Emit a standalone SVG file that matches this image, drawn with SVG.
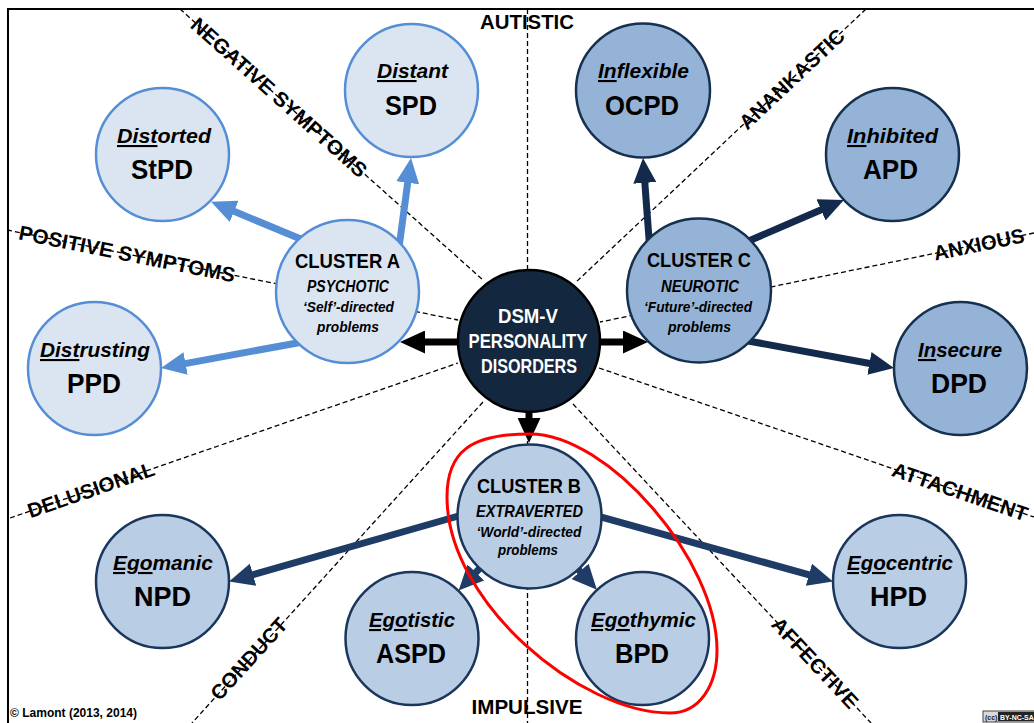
<svg xmlns="http://www.w3.org/2000/svg" width="1034" height="723" viewBox="0 0 1034 723">
<defs>
<style>
.ax{fill:none;stroke:#000;stroke-width:1.3;stroke-dasharray:5 3}
.axl{font-family:"Liberation Sans",Arial,sans-serif;font-weight:bold;font-size:20.5px;fill:#000;text-anchor:middle}
.sh{fill:none;stroke-width:7}
.a{stroke:#558ed5}
.c{stroke:#132a4c}
.b{stroke:#1f3c66}
.k{stroke:#000}
.na{fill:#dbe5f1;stroke:#558ed5;stroke-width:2.5}
.nb{fill:#b9cde5;stroke:#1b365c;stroke-width:2.5}
.nc{fill:#95b3d7;stroke:#16304f;stroke-width:2.5}
.nm{fill:#13273f;stroke:#000;stroke-width:2.5}
.t{font-family:"Liberation Sans",Arial,sans-serif;font-weight:bold;text-anchor:middle;fill:#000}
.w{fill:#fff;font-size:20px}
.ct{font-size:21px}
.ci{font-size:16px;font-style:italic}
.cs{font-size:15px;font-style:italic}
.iw{font-size:21px;font-style:italic}
.cd{font-size:28px}
.u{text-decoration:underline}
</style>
<marker id="ma" markerUnits="userSpaceOnUse" markerWidth="25" markerHeight="23" refX="6" refY="11.5" orient="auto"><path d="M0,0 L25,11.5 L0,23 Z" fill="#558ed5"/></marker>
<marker id="mc" markerUnits="userSpaceOnUse" markerWidth="25" markerHeight="23" refX="6" refY="11.5" orient="auto"><path d="M0,0 L25,11.5 L0,23 Z" fill="#132a4c"/></marker>
<marker id="mb" markerUnits="userSpaceOnUse" markerWidth="25" markerHeight="23" refX="6" refY="11.5" orient="auto"><path d="M0,0 L25,11.5 L0,23 Z" fill="#1f3c66"/></marker>
<marker id="mk" markerUnits="userSpaceOnUse" markerWidth="25" markerHeight="23" refX="6" refY="11.5" orient="auto"><path d="M0,0 L25,11.5 L0,23 Z" fill="#000"/></marker>
</defs>
<rect width="1034" height="723" fill="#fff"/>
<path d="M8,723 V9 H1034" fill="none" stroke="#000" stroke-width="2"/>

<g id="axes">
<text class="axl" x="527" y="29" textLength="94" lengthAdjust="spacingAndGlyphs">AUTISTIC</text>
<text class="axl" x="527" y="714" textLength="111" lengthAdjust="spacingAndGlyphs">IMPULSIVE</text>
<text class="axl" transform="translate(279,97.5) rotate(41.8)" y="7" textLength="228" lengthAdjust="spacingAndGlyphs">NEGATIVE SYMPTOMS</text>
<text class="axl" transform="translate(127,254) rotate(11.3)" y="7" textLength="220" lengthAdjust="spacingAndGlyphs">POSITIVE SYMPTOMS</text>
<text class="axl" transform="translate(792,79) rotate(-43.3)" y="7" textLength="136" lengthAdjust="spacingAndGlyphs">ANANKASTIC</text>
<text class="axl" transform="translate(979,244.5) rotate(-11.6)" y="7" textLength="92" lengthAdjust="spacingAndGlyphs">ANXIOUS</text>
<text class="axl" transform="translate(91,490) rotate(-19.1)" y="7" textLength="133" lengthAdjust="spacingAndGlyphs">DELUSIONAL</text>
<text class="axl" transform="translate(960,492) rotate(18.9)" y="7" textLength="142" lengthAdjust="spacingAndGlyphs">ATTACHMENT</text>
<text class="axl" transform="translate(249,659) rotate(-47.7)" y="7" textLength="103" lengthAdjust="spacingAndGlyphs">CONDUCT</text>
<text class="axl" transform="translate(815,663) rotate(47)" y="7" textLength="116" lengthAdjust="spacingAndGlyphs">AFFECTIVE</text>
<line class="ax" x1="527.5" y1="9" x2="527.5" y2="723"/>
<line class="ax" x1="180" y1="9" x2="483" y2="280"/>
<line class="ax" x1="866" y1="9" x2="575" y2="283"/>
<line class="ax" x1="7" y1="230" x2="458" y2="320"/>
<line class="ax" x1="1034" y1="233" x2="600" y2="322"/>
<line class="ax" x1="10" y1="518" x2="458" y2="363"/>
<line class="ax" x1="599" y1="368" x2="1034" y2="517"/>
<line class="ax" x1="483" y1="402" x2="192" y2="723"/>
<line class="ax" x1="573" y1="404" x2="871" y2="723"/>
</g>

<g id="connectors">
<line class="sh a" x1="398.7" y1="249.9" x2="408.5" y2="176.8" marker-end="url(#ma)"/>
<line class="sh a" x1="307.3" y1="241.8" x2="228.6" y2="209.1" marker-end="url(#ma)"/>
<line class="sh a" x1="306.8" y1="341.2" x2="179.7" y2="364.6" marker-end="url(#ma)"/>
<line class="sh c" x1="649.7" y1="248" x2="644.4" y2="176.9" marker-end="url(#mc)"/>
<line class="sh c" x1="741.8" y1="244" x2="826.5" y2="207.5" marker-end="url(#mc)"/>
<line class="sh c" x1="744.2" y1="340.2" x2="875.3" y2="364.5" marker-end="url(#mc)"/>
<line class="sh b" x1="467.2" y1="513.5" x2="247.3" y2="576.3" marker-end="url(#mb)"/>
<line class="sh b" x1="581.7" y1="511.6" x2="814.7" y2="576.4" marker-end="url(#mb)"/>
<line class="sh b" x1="487.9" y1="559.7" x2="471.7" y2="576.8" marker-end="url(#mb)"/>
<line class="sh b" x1="570.2" y1="560.5" x2="584.1" y2="575.8" marker-end="url(#mb)"/>
<line class="sh k" x1="470" y1="342" x2="419" y2="342" marker-end="url(#mk)"/>
<line class="sh k" x1="590" y1="342" x2="629" y2="342" marker-end="url(#mk)"/>
<line class="sh k" x1="529" y1="400" x2="529" y2="424" marker-end="url(#mk)"/>
</g>

<g id="center">
<circle class="nm" cx="529" cy="341" r="71"/>
<text class="t w" x="528" y="323" textLength="60" lengthAdjust="spacingAndGlyphs">DSM-V</text>
<text class="t w" x="528" y="348" textLength="119" lengthAdjust="spacingAndGlyphs">PERSONALITY</text>
<text class="t w" x="529" y="373" textLength="96" lengthAdjust="spacingAndGlyphs">DISORDERS</text>
</g>

<g id="clusterA">
<circle class="na" cx="347.5" cy="291.5" r="71.5"/>
<text class="t ct" x="347.5" y="268" textLength="105" lengthAdjust="spacingAndGlyphs">CLUSTER A</text>
<text class="t ci" x="348" y="292" textLength="82" lengthAdjust="spacingAndGlyphs">PSYCHOTIC</text>
<text class="t cs" x="348.5" y="312" textLength="91" lengthAdjust="spacingAndGlyphs">‘Self’-directed</text>
<text class="t cs" x="348" y="332" textLength="62" lengthAdjust="spacingAndGlyphs">problems</text>
</g>

<g id="clusterC">
<circle class="nc" cx="699" cy="290.5" r="72"/>
<text class="t ct" x="699" y="267" textLength="104" lengthAdjust="spacingAndGlyphs">CLUSTER C</text>
<text class="t ci" x="700" y="292" textLength="78" lengthAdjust="spacingAndGlyphs">NEUROTIC</text>
<text class="t cs" x="698" y="312" textLength="108" lengthAdjust="spacingAndGlyphs">‘Future’-directed</text>
<text class="t cs" x="699.5" y="332" textLength="63" lengthAdjust="spacingAndGlyphs">problems</text>
</g>

<g id="clusterB">
<circle class="nb" cx="529.5" cy="516.5" r="72"/>
<text class="t ct" x="529" y="493" textLength="104" lengthAdjust="spacingAndGlyphs">CLUSTER B</text>
<text class="t ci" x="529.5" y="517" textLength="107" lengthAdjust="spacingAndGlyphs">EXTRAVERTED</text>
<text class="t cs" x="529" y="537" textLength="105" lengthAdjust="spacingAndGlyphs">‘World’-directed</text>
<text class="t cs" x="528" y="555" textLength="60" lengthAdjust="spacingAndGlyphs">problems</text>
</g>

<g id="SPD">
<circle class="na" cx="411.5" cy="90.5" r="66.5"/>
<text class="t iw" x="412.5" y="78" textLength="71" lengthAdjust="spacingAndGlyphs"><tspan class="u">Dist</tspan>ant</text>
<text class="t cd" x="411" y="115" textLength="52" lengthAdjust="spacingAndGlyphs">SPD</text>
</g>
<g id="StPD">
<circle class="na" cx="162.5" cy="154.5" r="66.5"/>
<text class="t iw" x="164" y="143" textLength="94" lengthAdjust="spacingAndGlyphs"><tspan class="u">Dist</tspan>orted</text>
<text class="t cd" x="162" y="179" textLength="62" lengthAdjust="spacingAndGlyphs">StPD</text>
</g>
<g id="PPD">
<circle class="na" cx="94.5" cy="368.5" r="66.5"/>
<text class="t iw" x="95" y="357" textLength="110" lengthAdjust="spacingAndGlyphs"><tspan class="u">Dist</tspan>rusting</text>
<text class="t cd" x="94" y="393" textLength="54" lengthAdjust="spacingAndGlyphs">PPD</text>
</g>
<g id="OCPD">
<circle class="nc" cx="643" cy="90.5" r="67"/>
<text class="t iw" x="643.5" y="78" textLength="91" lengthAdjust="spacingAndGlyphs"><tspan class="u">In</tspan>flexible</text>
<text class="t cd" x="642" y="115" textLength="74" lengthAdjust="spacingAndGlyphs">OCPD</text>
</g>
<g id="APD">
<circle class="nc" cx="892.5" cy="154.5" r="66.5"/>
<text class="t iw" x="892.5" y="143" textLength="91" lengthAdjust="spacingAndGlyphs"><tspan class="u">In</tspan>hibited</text>
<text class="t cd" x="890.5" y="179" textLength="55" lengthAdjust="spacingAndGlyphs">APD</text>
</g>
<g id="DPD">
<circle class="nc" cx="960.5" cy="368.5" r="66.5"/>
<text class="t iw" x="960" y="357" textLength="84" lengthAdjust="spacingAndGlyphs"><tspan class="u">In</tspan>secure</text>
<text class="t cd" x="959" y="393" textLength="56" lengthAdjust="spacingAndGlyphs">DPD</text>
</g>
<g id="NPD">
<circle class="nb" cx="162.5" cy="581.5" r="66.5"/>
<text class="t iw" x="163" y="570" textLength="100" lengthAdjust="spacingAndGlyphs"><tspan class="u">Ego</tspan>manic</text>
<text class="t cd" x="162.5" y="606" textLength="57" lengthAdjust="spacingAndGlyphs">NPD</text>
</g>
<g id="ASPD">
<circle class="nb" cx="412" cy="638.5" r="66.5"/>
<text class="t iw" x="412" y="627" textLength="86" lengthAdjust="spacingAndGlyphs"><tspan class="u">Ego</tspan>tistic</text>
<text class="t cd" x="411" y="663" textLength="70" lengthAdjust="spacingAndGlyphs">ASPD</text>
</g>
<g id="BPD">
<circle class="nb" cx="642.5" cy="638.5" r="66.5"/>
<text class="t iw" x="643.5" y="627" textLength="105" lengthAdjust="spacingAndGlyphs"><tspan class="u">Ego</tspan>thymic</text>
<text class="t cd" x="642" y="663" textLength="54" lengthAdjust="spacingAndGlyphs">BPD</text>
</g>
<g id="HPD">
<circle class="nb" cx="899.5" cy="581.5" r="66.5"/>
<text class="t iw" x="900" y="570" textLength="106" lengthAdjust="spacingAndGlyphs"><tspan class="u">Ego</tspan>centric</text>
<text class="t cd" x="898.5" y="606" textLength="57" lengthAdjust="spacingAndGlyphs">HPD</text>
</g>

<g id="highlight">
<path d="M530,434 C608,434 717,560 717,650 C717,685 700,713 670,713 C580,713 447,602 447,497 C447,452 470,434 530,434 Z" fill="none" stroke="#ff0000" stroke-width="3"/>
</g>

<g id="footer">
<text x="10" y="717" font-family="'Liberation Sans',Arial,sans-serif" font-weight="bold" font-size="12" textLength="127" lengthAdjust="spacingAndGlyphs">© Lamont (2013, 2014)</text>
<rect x="983" y="711" width="56" height="11" fill="#d9d9d9" stroke="#444" stroke-width="1"/>
<rect x="998" y="712" width="40" height="9" fill="#222"/>
<text x="985" y="719.5" font-family="'Liberation Sans',Arial,sans-serif" font-weight="bold" font-size="7" fill="#222">(cc)</text>
<text x="1000" y="719.5" font-family="'Liberation Sans',Arial,sans-serif" font-weight="bold" font-size="7" fill="#fff">BY-NC-SA</text>
</g>
</svg>
